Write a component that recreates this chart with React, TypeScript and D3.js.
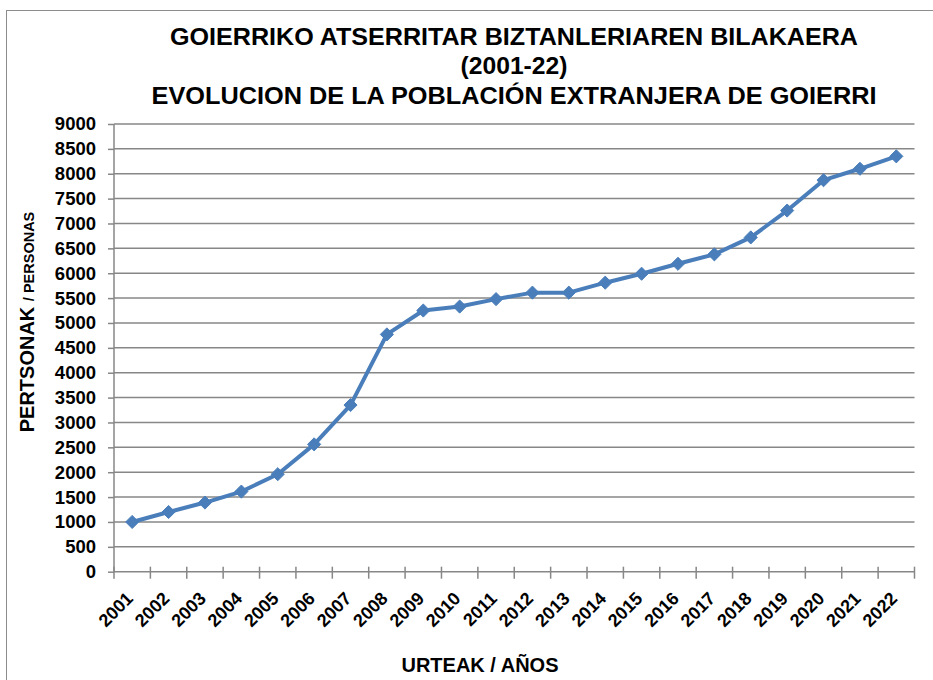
import React, { useEffect, useRef } from "react";
import * as d3 from "d3";

const years = ["2001", "2002", "2003", "2004", "2005", "2006", "2007", "2008", "2009", "2010", "2011",
    "2012", "2013", "2014", "2015", "2016", "2017", "2018", "2019", "2020", "2021", "2022"];
const persons = [1000, 1200, 1390, 1610, 1960, 2560, 3350, 4770, 5250, 5330, 5480,
    5610, 5610, 5810, 5990, 6190, 6380, 6720, 7260, 7870, 8100, 8350];
const yTicks = d3.range(0, 9001, 500);
const titleLines = [
    "GOIERRIKO ATSERRITAR BIZTANLERIAREN BILAKAERA",
    "(2001-22)",
    "EVOLUCION DE LA POBLACIÓN EXTRANJERA DE GOIERRI",
];
const titleWidths = [688, 107, 725];
const titleBaselines = [45, 74, 103.5];

const App = () => {
    const ref = useRef<SVGSVGElement>(null);

    useEffect(() => {
        const svg = d3.select(ref.current);
        svg.selectAll("*").remove();
        const font = "'Liberation Sans', Arial, sans-serif";
        const grey = "#878787";

        // chart frame (runs off the right and bottom edges)
        svg.append("rect")
            .attr("x", 6.5).attr("y", 10.5)
            .attr("width", 950).attr("height", 700)
            .attr("fill", "#fff").attr("stroke", "#8c8c8c").attr("stroke-width", 1);

        // title
        svg.append("g")
            .selectAll("text")
            .data(titleLines)
            .join("text")
            .attr("x", 514)
            .attr("y", (d, i) => titleBaselines[i])
            .attr("text-anchor", "middle")
            .attr("font-family", font)
            .attr("font-weight", "bold")
            .attr("font-size", "23px")
            .attr("textLength", (d, i) => titleWidths[i])
            .attr("lengthAdjust", "spacingAndGlyphs")
            .text((d) => d);

        const x = d3.scaleBand()
            .domain(years)
            .range([114, 914.5]);

        const y = d3.scaleLinear()
            .domain([0, 9000])
            .range([571.7, 124]);

        // grid
        svg.append("g")
            .selectAll("line")
            .data(yTicks.filter((t) => t > 0))
            .join("line")
            .attr("x1", 114).attr("x2", 914.5)
            .attr("y1", (d) => y(d)).attr("y2", (d) => y(d))
            .attr("stroke", grey).attr("stroke-width", 1.5);

        // y axis
        const yAxis = svg.append("g")
            .attr("transform", "translate(114,0)")
            .call(d3.axisLeft(y).tickValues(yTicks).tickSize(6).tickPadding(12).tickFormat(d3.format("d")));
        yAxis.selectAll("line").attr("stroke", grey).attr("stroke-width", 1.5);
        yAxis.select(".domain").attr("stroke", grey).attr("stroke-width", 1.5).attr("d", `M0,${y(9000)}V${y(0)}`);
        yAxis.selectAll("text")
            .attr("font-family", font).attr("font-weight", "bold").attr("font-size", "18.5px").attr("fill", "#000");

        // x axis
        const xAxis = svg.append("g")
            .attr("transform", `translate(0,${y(0)})`)
            .call(d3.axisBottom(x).tickSize(0).tickPadding(0));
        xAxis.select(".domain").attr("stroke", grey).attr("stroke-width", 1.5).attr("d", "M114,0H914.5");
        xAxis.selectAll(".tick text")
            .attr("font-family", font).attr("font-weight", "bold").attr("font-size", "18px").attr("fill", "#000")
            .attr("text-anchor", "end")
            .attr("dy", null)
            .attr("transform", "translate(2,28) rotate(-45)");
        svg.append("g")
            .selectAll("line")
            .data(d3.range(years.length + 1))
            .join("line")
            .attr("x1", (d) => 114 + d * x.step()).attr("x2", (d) => 114 + d * x.step())
            .attr("y1", y(0) - 5).attr("y2", y(0) + 7)
            .attr("stroke", grey).attr("stroke-width", 1.5);

        // series
        const cx = (d, i) => x(years[i]) + x.bandwidth() / 2;
        svg.append("path")
            .datum(persons)
            .attr("fill", "none")
            .attr("stroke", "#4a7ebb")
            .attr("stroke-width", 4)
            .attr("stroke-linejoin", "round")
            .attr("d", d3.line<number>().x(cx).y((d) => y(d)));

        svg.append("g")
            .selectAll("path")
            .data(persons)
            .join("path")
            .attr("transform", (d, i) => `translate(${cx(d, i)},${y(d)})`)
            .attr("d", d3.symbol(d3.symbolDiamond2, 110))
            .attr("fill", "#4a7ebb")
            .attr("stroke", "#4a7ebb")
            .attr("stroke-width", 1);

        // axis titles
        const yt = svg.append("text")
            .attr("transform", "translate(34,322) rotate(-90)")
            .attr("text-anchor", "middle")
            .attr("font-family", font)
            .attr("font-weight", "bold")
            .attr("fill", "#000");
        yt.append("tspan").attr("font-size", "20px").text("PERTSONAK  ");
        yt.append("tspan").attr("font-size", "14.5px").text("/ PERSONAS");

        svg.append("text")
            .attr("x", 480).attr("y", 672)
            .attr("text-anchor", "middle")
            .attr("font-family", font)
            .attr("font-weight", "bold")
            .attr("font-size", "20px")
            .text("URTEAK / AÑOS");
    }, []);

    return (
        <svg ref={ref} width={933} height={680}
            style={{ position: "absolute", left: 0, top: 0, background: "#fff" }} />
    );
};

export default App;
